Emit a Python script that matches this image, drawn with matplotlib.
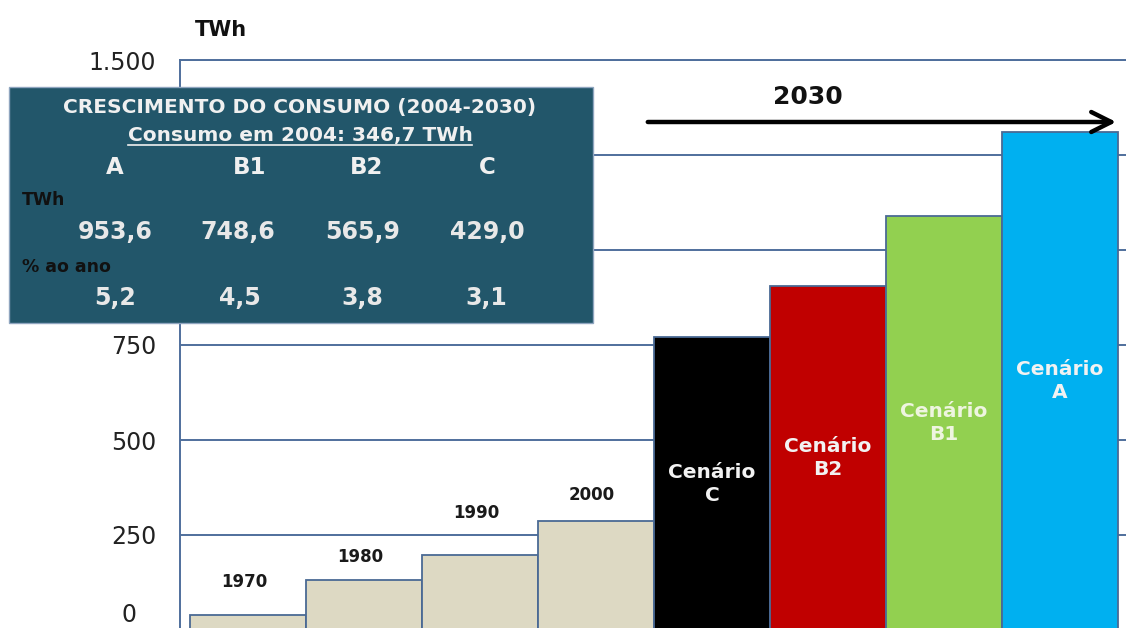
import matplotlib
matplotlib.use("Agg")
import matplotlib.pyplot as plt
from matplotlib.patches import Rectangle, FancyArrowPatch
from matplotlib.lines import Line2D
from matplotlib.transforms import ScaledTranslation

plt.rcParams['font.family'] = ['DejaVu Sans']

# ---------------- data ----------------
categories = ["1970", "1980", "1990", "2000", "Cenário\nC", "Cenário\nB2", "Cenário\nB1", "Cenário\nA"]
consumo_twh = [40, 131, 197, 287, 770, 905, 1090, 1310]
year_labels = ["1970", "1980", "1990", "2000"]
scenario_labels = ["Cenário\nC", "Cenário\nB2", "Cenário\nB1", "Cenário\nA"]

ytick_values = [0, 250, 500, 750, 1000, 1250, 1500]
# 1.000 and 1.250 are hidden behind the summary box in the reference
ytick_labels = ["0", "250", "500", "750", "", "", "1.500"]

table_title = "CRESCIMENTO DO CONSUMO (2004-2030)"
table_subtitle = "Consumo em 2004: 346,7 TWh"
table_cols = ["A", "B1", "B2", "C"]
table_twh = ["953,6", "748,6", "565,9", "429,0"]
table_pct = ["5,2", "4,5", "3,8", "3,1"]

# ---------------- style ----------------
W, H = 1126, 628
bar_colors = ["#DDD9C3"] * 4 + ["#000000", "#C00000", "#92D050", "#00B0F0"]
scen_text_colors = ["#F2F2F2", "#F2F2F2", "#EEF5E0", "#F2F2F2"]
edge_col = "#4A6A94"
grid_col = "#4F6F9C"
year_offsets_px = [33, 23, 42, 26]

fig = plt.figure(figsize=(W / 100, H / 100), dpi=100)
fig.patch.set_facecolor("white")

def fx(px):
    return px / W

def fy(py):
    return 1 - py / H

ax = fig.add_axes([fx(180), fy(630), fx(1128) - fx(180), fy(60) - fy(630)])
x = list(range(len(categories)))
ax.bar(x, consumo_twh, width=1.0, color=bar_colors, edgecolor=edge_col,
       linewidth=1.3, zorder=3)
ax.set_xlim(-0.585, 7.585)
ax.set_ylim(0, 1500)

ax.set_yticks(ytick_values)
ax.set_yticklabels(ytick_labels)
ax.tick_params(axis='y', length=0, pad=17, labelsize=17, labelcolor="#222222")
ax.set_xticks([])
ax.yaxis.grid(True, color=grid_col, linewidth=1.4, zorder=0)
ax.set_axisbelow(True)
for s in ["right", "bottom"]:
    ax.spines[s].set_visible(False)
for s in ["left", "top"]:
    ax.spines[s].set_color(grid_col)
    ax.spines[s].set_linewidth(1.4)

# shift the "0" label like the reference
lbl0 = ax.get_yticklabels()[0]
lbl0.set_transform(lbl0.get_transform() + ScaledTranslation(-20 / 100, 18 / 100, fig.dpi_scale_trans))

# year labels above historic bars
for i, (lab, off) in enumerate(zip(year_labels, year_offsets_px)):
    ax.annotate(lab, (x[i], consumo_twh[i]), xytext=(-4, off), textcoords="offset pixels",
                ha="center", va="center", fontsize=12, fontweight="bold", color="#1a1a1a",
                zorder=5)

# scenario labels inside bars
for j, lab in enumerate(scenario_labels):
    i = 4 + j
    ax.text(x[i], consumo_twh[i] / 2, lab, ha="center", va="center", fontsize=14.5,
            fontweight="bold", color=scen_text_colors[j], linespacing=1.25, zorder=5)

fig.text(fx(221), fy(30), "TWh", ha="center", va="center", fontsize=15,
         fontweight="bold", color="#111111")

# 2030 arrow
fig.add_artist(FancyArrowPatch(
    (fx(645), fy(122)), (fx(1119), fy(122)), transform=fig.transFigure,
    arrowstyle="->,head_length=9,head_width=4.5", color="black", linewidth=3.2,
    mutation_scale=1.6, zorder=10))
fig.text(fx(808), fy(97), "2030", ha="center", va="center", fontsize=18,
         fontweight="bold", color="#111111", zorder=10)

# summary box
box = Rectangle((fx(9), fy(323)), fx(593) - fx(9), fy(87) - fy(323),
                transform=fig.transFigure, facecolor="#22566A", edgecolor="#8FA5BF",
                linewidth=1.0, zorder=20)
fig.add_artist(box)

tc = "#F0F0F0"
fig.text(fx(300), fy(107), table_title, ha="center", va="center", fontsize=14.5,
         fontweight="bold", color=tc, zorder=21)
sub = fig.text(fx(300), fy(136), table_subtitle, ha="center", va="center", fontsize=14.5,
               fontweight="bold", color=tc, zorder=21)

col_x_head = [115, 250, 367, 487]
col_x_twh = [115, 238, 363, 487]
col_x_pct = [115, 240, 362, 486]
for cx, t in zip(col_x_head, table_cols):
    fig.text(fx(cx), fy(168), t, ha="center", va="center", fontsize=16.5,
             fontweight="bold", color=tc, zorder=21)
fig.text(fx(22), fy(200), "TWh", ha="left", va="center", fontsize=12.5,
         fontweight="bold", color="#111111", zorder=21)
for cx, t in zip(col_x_twh, table_twh):
    fig.text(fx(cx), fy(232), t, ha="center", va="center", fontsize=17,
             fontweight="bold", color="#E8E8E8", zorder=21)
fig.text(fx(22), fy(267), "% ao ano", ha="left", va="center", fontsize=12.5,
         fontweight="bold", color="#111111", zorder=21)
for cx, t in zip(col_x_pct, table_pct):
    fig.text(fx(cx), fy(298), t, ha="center", va="center", fontsize=17,
             fontweight="bold", color="#E8E8E8", zorder=21)

# underline for subtitle
fig.canvas.draw()
bb = sub.get_window_extent().transformed(fig.transFigure.inverted())
fig.add_artist(Line2D([bb.x0, bb.x1], [bb.y0 + 0.001, bb.y0 + 0.001], transform=fig.transFigure,
                      color=tc, linewidth=1.2, zorder=21))

fig.savefig("out.png", dpi=100)
